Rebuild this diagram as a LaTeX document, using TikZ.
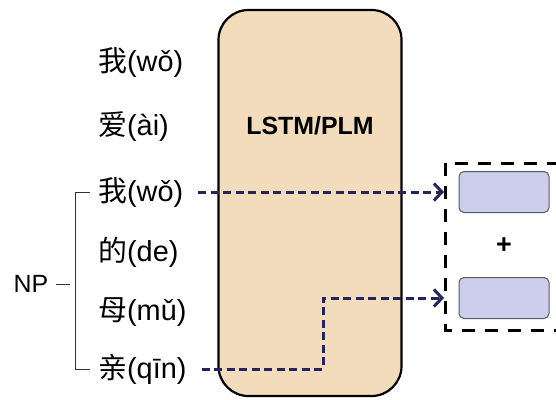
\documentclass[tikz,border=0pt]{standalone}
\usepackage{fontspec}
\setmainfont{Liberation Sans}
\newfontfamily\cjk{Noto Sans CJK SC}
\usetikzlibrary{arrows.meta}

\definecolor{wheat}{HTML}{F2DCBB}
\definecolor{lavender}{HTML}{CDCDEE}
\definecolor{navy}{HTML}{24245F}

\tikzset{
    word/.style={anchor=west, inner xsep=8bp, inner ysep=2bp, font=\fontsize{29}{34}\selectfont},
    lstm/.style={draw, line width=2.2bp, fill=wheat, rounded corners=30bp, minimum width=183bp, minimum height=386bp},
    slot/.style={draw=black!65, line width=1bp, fill=lavender, rounded corners=5bp, minimum width=90bp, minimum height=41bp},
    flow/.style={navy, line width=3bp, dash pattern=on 8bp off 4.5bp, -{Straight Barb[length=8bp,width=17bp,line width=3bp]}},
    group/.style={draw, line width=3bp, dash pattern=on 13bp off 10bp}
}

\begin{document}
\begin{tikzpicture}[x=1bp, y=-1bp]
    \useasboundingbox (0,0) rectangle (556,399);

    % Encoder
    \node[lstm] (lstm) at (310,203) {};
    \node[font=\fontsize{25}{30}\selectfont\bfseries] (lbl) at (310,126) {LSTM/PLM};

    % Words
    \foreach \i/\y/\t in {1/62/{{\cjk 我}(wǒ)}, 2/127/{{\cjk 爱}(ài)}, 3/192/{{\cjk 我}(wǒ)},
                           4/252/{{\cjk 的}(de)}, 5/312/{{\cjk 母}(mǔ)}, 6/369/{{\cjk 亲}(qīn)}}
        \node[word] (w\i) at (90,\y) {\t};

    % NP bracket
    \node[font=\fontsize{25}{30}\selectfont] (np) at (31,284) {NP};
    \draw[black!80, line width=1bp] (w3.west) -- ++(-15,0) |- (w6.west);
    \draw[black!80, line width=1bp] ([xshift=4bp]np.east) -- ++(14,0);

    % Output slots
    \node[slot] (s1) at (504,192) {};
    \node[slot] (s2) at (504,298) {};
    \node[font=\fontsize{27}{32}\selectfont\bfseries] (plus) at (504,246) {+};
    \draw[group] (560,163) -- (445,163) -- (445,330) -- (560,330);
    \coordinate (gw) at (444,0);
    \coordinate (turn) at (323,298);

    % Arrows
    \draw[flow] ([xshift=7bp]w3.east) -- (w3.east -| gw);
    \draw[flow] ([xshift=7bp]w6.east) -| (turn) -- (turn -| gw);
\end{tikzpicture}
\end{document}
